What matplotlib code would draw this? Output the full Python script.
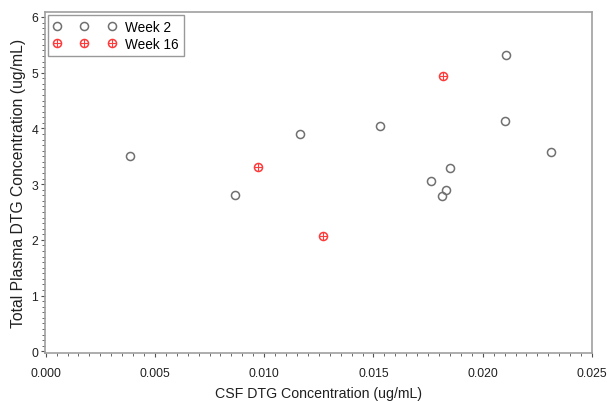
import matplotlib
matplotlib.use('Agg')
import matplotlib.pyplot as plt
from matplotlib.ticker import MultipleLocator

plt.rcParams['font.family'] = ['Liberation Sans', 'DejaVu Sans']

# week 2 samples
wk2_csf = [0.00387, 0.00867, 0.01162, 0.01531, 0.01762, 0.01813, 0.01831, 0.01850, 0.02103, 0.02108, 0.02311]
wk2_plasma = [3.50, 2.80, 3.90, 4.04, 3.05, 2.79, 2.90, 3.29, 4.13, 5.31, 3.58]

# week 16 samples
wk16_csf = [0.00970, 0.01268, 0.01819]
wk16_plasma = [3.30, 2.07, 4.94]

x_ticks = [0.000, 0.005, 0.010, 0.015, 0.020, 0.025]
y_ticks = [0, 1, 2, 3, 4, 5, 6]

fig = plt.figure(figsize=(6.08, 4.02), dpi=100, facecolor='white')
ax = fig.add_axes([0.0740, 0.1194, 0.8997, 0.8483])

h_wk2, = ax.plot(wk2_csf, wk2_plasma, linestyle='none', marker='o', markersize=5.8,
                 markerfacecolor='none', markeredgecolor='#707070',
                 markeredgewidth=1.1, zorder=3)
c16, = ax.plot(wk16_csf, wk16_plasma, linestyle='none', marker='o', markersize=5.8,
               markerfacecolor='none', markeredgecolor='#ff3a3a',
               markeredgewidth=1.1, zorder=3)
p16, = ax.plot(wk16_csf, wk16_plasma, linestyle='none', marker='+', markersize=5.8,
               markeredgecolor='#ff3a3a', markeredgewidth=0.8, zorder=4)

ax.set_xlim(-0.00003, 0.0250)
ax.set_ylim(-0.03, 6.09)
ax.set_xticks(x_ticks)
ax.set_xticklabels([f'{v:.3f}' for v in x_ticks])
ax.set_yticks(y_ticks)
ax.xaxis.set_minor_locator(MultipleLocator(0.0005))
ax.yaxis.set_minor_locator(MultipleLocator(0.1))

ax.tick_params(which='major', direction='out', length=3, width=0.8,
               color='#505050', labelsize=8.8, labelcolor='#202020')
ax.tick_params(axis='x', which='major', pad=7)
ax.tick_params(axis='y', which='major', pad=2)
ax.tick_params(which='minor', direction='out', length=2, width=0.6, color='#505050')
for sp in ax.spines.values():
    sp.set_color('#a0a0a0')
    sp.set_linewidth(1.2)

ax.set_xlabel('CSF DTG Concentration (ug/mL)', fontsize=10.2, color='#202020', labelpad=5)
ax.set_ylabel('Total Plasma DTG Concentration (ug/mL)', fontsize=11.3, color='#202020', labelpad=4)

leg = ax.legend([h_wk2, (c16, p16)], ['Week 2', 'Week 16'], loc='upper left',
                numpoints=3, fontsize=9.8, frameon=True, fancybox=False,
                borderpad=0.35, labelspacing=0.2, handletextpad=0.7,
                handlelength=4.6, borderaxespad=0.25)
leg.get_frame().set_edgecolor('#808080')
leg.get_frame().set_linewidth(1.0)

plt.savefig('out.png', dpi=100, facecolor='white')
